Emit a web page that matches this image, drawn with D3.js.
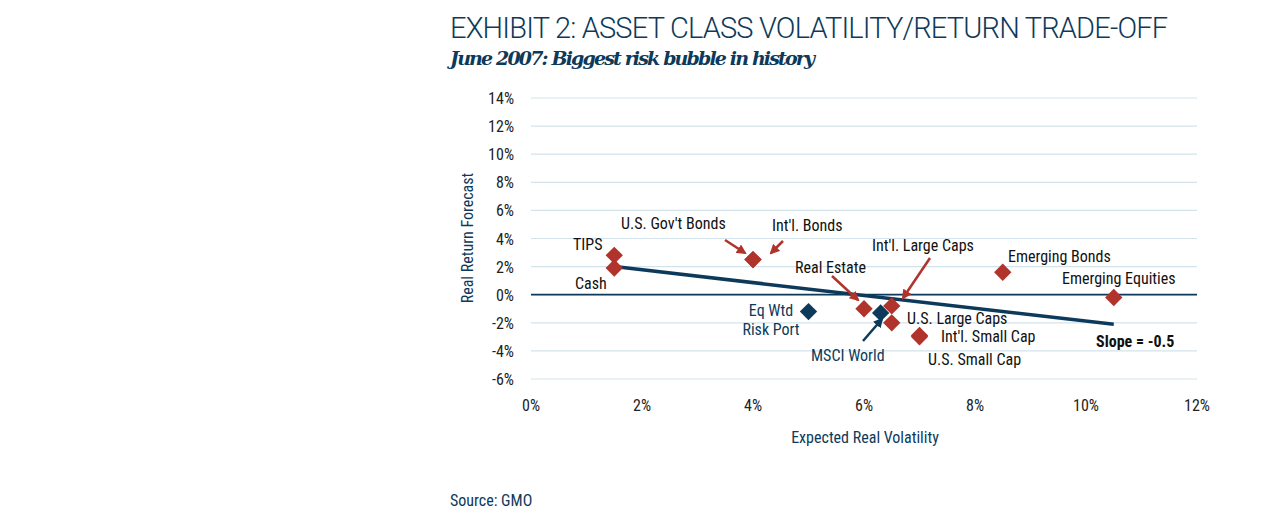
<!DOCTYPE html><html><head><meta charset="utf-8">
<script src="https://cdn.jsdelivr.net/npm/d3@7"></script>
<style>body{margin:0;background:#fff}text{font-family:"Liberation Sans Narrow","Roboto Condensed",Roboto,sans-serif}</style></head><body>
<svg id="c" width="1275" height="526"></svg>
<script>
const assetNames=["TIPS","Cash","U.S. Gov't Bonds","Int'l. Bonds","Real Estate","Int'l. Large Caps","U.S. Large Caps","Int'l. Small Cap","U.S. Small Cap","Emerging Bonds","Emerging Equities"];
const assetVol=[1.5,1.5,4.0,4.0,6.0,6.5,6.5,7.0,7.0,8.5,10.5];
const assetRet=[2.8,1.9,2.5,2.5,-1.0,-0.8,-2.0,-2.9,-3.0,1.6,-0.2];
const portNames=["Eq Wtd Risk Port","MSCI World"];
const portVol=[5.0,6.3];
const portRet=[-1.2,-1.3];
const fitX=[1.5,10.5];
const fitY=[2.0,-2.1];
const xTicks=[0,2,4,6,8,10,12];
const yTicks=[-6,-4,-2,0,2,4,6,8,10,12,14];
const red="#b0342c",navy="#0d3a5a";
const svg=d3.select("#c");
const x=d3.scaleLinear().domain([0,12]).range([531,1197]);
const y=d3.scaleLinear().domain([-6,14]).range([379,98]);
svg.append("text").attr("x",450).attr("y",38).attr("fill",navy).attr("font-size",29).style("font-family","Roboto").style("font-weight",300).attr("textLength",718).text("EXHIBIT 2: ASSET CLASS VOLATILITY/RETURN TRADE-OFF");
svg.append("text").attr("x",450).attr("y",65).attr("fill",navy).attr("font-size",19).style("font-family","DejaVu Serif").style("font-style","italic").style("font-weight","bold").attr("textLength",365).text("June 2007: Biggest risk bubble in history");
svg.append("g").selectAll("line").data(yTicks).join("line").attr("x1",x(0)).attr("x2",x(12)).attr("y1",d=>y(d)).attr("y2",d=>y(d)).attr("stroke","#d3e3ec").attr("stroke-width",1.2);
svg.append("line").attr("x1",x(0)).attr("x2",x(12)).attr("y1",y(0)).attr("y2",y(0)).attr("stroke",navy).attr("stroke-width",1.8);
svg.append("g").selectAll("text").data(yTicks).join("text").attr("x",514).attr("y",d=>y(d)+6).attr("text-anchor","end").attr("font-size",16).attr("fill","#222").text(d=>d+"%");
svg.append("g").selectAll("text").data(xTicks).join("text").attr("x",d=>x(d)).attr("y",411).attr("text-anchor","middle").attr("font-size",16).attr("fill","#222").text(d=>d+"%");
svg.append("text").attr("x",865).attr("y",443).attr("text-anchor","middle").attr("font-size",16).attr("fill",navy).text("Expected Real Volatility");
svg.append("text").attr("transform","translate(473,238) rotate(-90)").attr("text-anchor","middle").attr("font-size",16).attr("fill",navy).text("Real Return Forecast");
svg.append("text").attr("x",450).attr("y",506).attr("font-size",16).attr("fill",navy).text("Source: GMO");
svg.append("line").attr("x1",x(fitX[0])).attr("y1",y(fitY[0])).attr("x2",x(fitX[1])).attr("y2",y(fitY[1])).attr("stroke",navy).attr("stroke-width",3.5);
const diamond=d3.symbol().type(d3.symbolSquare).size(150);
function pts(v,r,c){svg.append("g").selectAll("path").data(v).join("path").attr("d",diamond).attr("transform",(d,i)=>`translate(${x(d)},${y(r[i])}) rotate(45)`).attr("fill",c);}
pts(assetVol,assetRet,red);pts(portVol,portRet,navy);
const defs=svg.append("defs");
[["ar",red],["an",navy]].forEach(([id,c])=>defs.append("marker").attr("id",id).attr("viewBox","0 0 10 10").attr("refX",8).attr("refY",5).attr("markerWidth",4).attr("markerHeight",4).attr("orient","auto").append("path").attr("d","M0,0L10,5L0,10z").attr("fill",c));
function arrow(x1,y1,x2,y2,m,c){svg.append("line").attr("x1",x1).attr("y1",y1).attr("x2",x2).attr("y2",y2).attr("stroke",c).attr("stroke-width",2.5).attr("marker-end",`url(#${m})`);}
arrow(725,240,745,253,"ar",red);arrow(783,241,771,253,"ar",red);arrow(832,276,858,300,"ar",red);arrow(930,258,903,298,"ar",red);arrow(863,341,882,319,"an",navy);
const labels=[["TIPS",573,250,"start",red],["Cash",575,289,"start",red],["U.S. Gov't Bonds",621,229,"start",red],["Int'l. Bonds",772,231,"start",red],["Real Estate",795,273,"start",red],["Int'l. Large Caps",872,251,"start",red],["U.S. Large Caps",907,324,"start",red],["Int'l. Small Cap",941,342,"start",red],["U.S. Small Cap",928,365,"start",red],["Emerging Bonds",1008,262,"start",red],["Emerging Equities",1062,284,"start",red]];
svg.append("g").selectAll("text").data(labels).join("text").attr("x",d=>d[1]).attr("y",d=>d[2]).attr("text-anchor",d=>d[3]).attr("font-size",16).attr("fill","#111").text(d=>d[0]);
svg.append("text").attr("x",771).attr("y",316).attr("text-anchor","middle").attr("font-size",16).attr("fill",navy).text("Eq Wtd");
svg.append("text").attr("x",771).attr("y",335).attr("text-anchor","middle").attr("font-size",16).attr("fill",navy).text("Risk Port");
svg.append("text").attr("x",811).attr("y",361).attr("font-size",16).attr("fill",navy).text("MSCI World");
svg.append("text").attr("x",1096).attr("y",347).attr("font-size",16).attr("font-weight","bold").attr("fill","#111").text("Slope = -0.5");
</script></body></html>
